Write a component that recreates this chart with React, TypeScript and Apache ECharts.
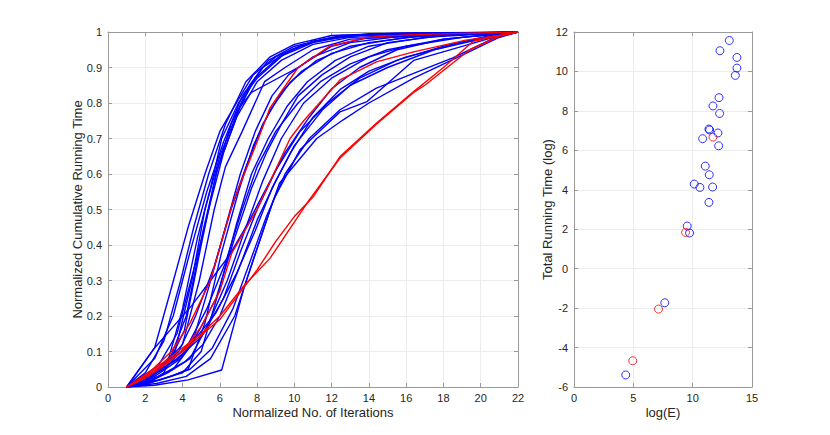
import React, { useEffect, useRef } from "react";
import * as echarts from "echarts";

// Left panel: cumulative curves, [normalized iteration, normalized cumulative time]
const blueCurves: number[][][] = [
  [[1,0],[2.5,0.11],[3.3,0.26],[4.3,0.45],[5.2,0.6],[6,0.72],[7,0.81],[7.8,0.88],[9,0.93],[10.5,0.965],[12,0.985],[15,0.995],[22,1]],
  [[1,0],[2,0.04],[3,0.13],[3.9,0.3],[4.6,0.45],[5.4,0.6],[6.3,0.74],[7.4,0.86],[8.7,0.93],[10,0.965],[12,0.99],[16,0.997],[22,1]],
  [[1,0],[2.2,0.02],[3.2,0.07],[4,0.22],[4.8,0.42],[5.5,0.56],[6.1,0.7],[7,0.8],[8,0.87],[9.5,0.94],[11,0.975],[14,0.993],[22,1]],
  [[1,0],[2.4,0.03],[3.6,0.1],[4.5,0.3],[5.2,0.5],[6,0.65],[7,0.78],[7.9,0.87],[9.2,0.93],[11,0.97],[13,0.99],[22,1]],
  [[1,0],[2.7,0.06],[3.7,0.15],[4.7,0.35],[5.5,0.52],[6.2,0.66],[7.1,0.79],[7.7,0.83],[10.2,0.9],[12,0.96],[14,0.985],[22,1]],
  [[1,0],[2.1,0.01],[3,0.04],[4.1,0.16],[5,0.4],[5.8,0.6],[6.6,0.74],[7.6,0.85],[8.6,0.92],[10,0.96],[12.5,0.99],[22,1]],
  [[1,0],[2.5,0.08],[3.5,0.2],[4.4,0.38],[5.3,0.55],[6.2,0.69],[7.2,0.82],[8.3,0.9],[9.8,0.95],[11.5,0.98],[14,0.995],[22,1]],
  [[1,0],[2.3,0.03],[3.4,0.09],[4.2,0.2],[5.1,0.44],[5.9,0.62],[6.9,0.76],[8,0.86],[9.3,0.92],[11,0.965],[13,0.985],[22,1]],
  [[1,0],[2.8,0.05],[4,0.12],[4.9,0.3],[5.7,0.5],[6.3,0.62],[7.2,0.72],[8.4,0.86],[9.5,0.9],[11,0.95],[13,0.98],[22,1]],
  [[1,0],[2.4,0.02],[3.5,0.05],[4.5,0.12],[5.4,0.28],[6.3,0.45],[7.1,0.6],[7.9,0.72],[8.8,0.82],[9.7,0.88],[11,0.93],[13,0.97],[16,0.99],[22,1]],
  [[1,0],[2.6,0.04],[3.8,0.1],[4.7,0.2],[5.7,0.34],[6.6,0.5],[7.4,0.62],[8.3,0.74],[9.3,0.83],[10.4,0.89],[12,0.94],[14,0.97],[17,0.99],[22,1]],
  [[1,0],[2.2,0.01],[3.4,0.03],[4.3,0.05],[5.2,0.18],[6.1,0.38],[7,0.55],[7.8,0.68],[8.7,0.78],[9.8,0.86],[11.2,0.92],[13,0.96],[16,0.985],[22,1]],
  [[1,0],[2.5,0.03],[3.9,0.08],[4.8,0.15],[5.8,0.25],[6.8,0.42],[7.7,0.56],[8.5,0.66],[9.3,0.74],[10.2,0.82],[11.5,0.88],[13,0.93],[15,0.97],[18,0.99],[22,1]],
  [[1,0],[3,0.05],[4.3,0.12],[5.3,0.22],[6.3,0.35],[7.2,0.5],[8,0.62],[9,0.72],[10.2,0.8],[11.4,0.86],[13,0.91],[15,0.95],[18,0.98],[22,1]],
  [[1,0],[2.7,0.02],[4,0.04],[5,0.1],[6,0.28],[6.9,0.46],[7.7,0.6],[8.6,0.7],[9.6,0.79],[10.7,0.86],[12.2,0.92],[14,0.96],[17,0.985],[22,1]],
  [[1,0],[2.5,0.11],[3.5,0.17],[4.5,0.23],[5.5,0.3],[6.5,0.37],[7.5,0.46],[8.5,0.56],[9.5,0.66],[10.8,0.76],[12,0.84],[13.5,0.9],[15.5,0.95],[18,0.98],[22,1]],
  [[1,0],[2.5,0.005],[4.3,0.02],[6.1,0.048],[7.3,0.28],[8.9,0.53],[10.3,0.668],[12.45,0.775],[13.9,0.804],[16.4,0.92],[21,0.99],[22,1]],
  [[1,0],[2.6,0.01],[4.2,0.03],[5.5,0.08],[6.8,0.2],[7.8,0.36],[8.7,0.5],[9.2,0.574],[11.2,0.7],[12.6,0.752],[14,0.8],[16.4,0.87],[18.7,0.927],[20.9,0.983],[22,1]],
  [[1,0],[2.8,0.02],[4.4,0.05],[5.6,0.11],[6.7,0.22],[7.6,0.35],[8.5,0.48],[9.5,0.6],[10.8,0.7],[12.45,0.781],[14.4,0.842],[18.5,0.927],[20.7,0.983],[22,1]],
  [[1,0],[2.3,0.03],[3.7,0.08],[5,0.14],[6.2,0.25],[7.1,0.38],[8,0.5],[9,0.61],[10.3,0.72],[11.8,0.8],[13.5,0.87],[15.5,0.92],[18,0.96],[20.5,0.99],[22,1]],
  [[1,0],[2.5,0.04],[3.8,0.08],[4.6,0.13],[5.8,0.21],[6.9,0.32],[7.9,0.44],[8.8,0.56],[9.8,0.66],[11,0.76],[12.5,0.84],[14,0.89],[16,0.93],[19,0.97],[22,1]],
  [[1,0],[2,0.01],[3.2,0.04],[4.4,0.08],[5.4,0.18],[6.4,0.3],[7.4,0.45],[8.3,0.58],[9.3,0.7],[10.5,0.8],[12,0.87],[14,0.93],[16,0.96],[19,0.985],[22,1]],
  [[1,0],[2.7,0.03],[4.1,0.07],[5.1,0.12],[6,0.2],[7,0.33],[8,0.47],[9,0.58],[10,0.68],[11.5,0.78],[13,0.85],[15,0.9],[17.5,0.95],[20,0.98],[22,1]],
];

const redCurves: number[][][] = [
  [[1,0],[2,0.03],[3,0.065],[4,0.1],[5,0.146],[6,0.19],[7,0.26],[8,0.33],[9,0.41],[10,0.48],[11,0.535],[12.45,0.649],[14.4,0.743],[16.4,0.832],[18,0.9],[19.6,0.974],[22,1]],
  [[1,0],[2,0.035],[3,0.07],[4,0.11],[5,0.15],[6,0.2],[7.26,0.283],[8.7,0.363],[10.8,0.527],[12.45,0.645],[14.4,0.74],[16.4,0.83],[17,0.85],[19.4,0.95],[21,0.988],[22,1]],
  [[1,0],[2,0.03],[3.4,0.1],[4.4,0.18],[5.5,0.3],[6.7,0.52],[8.07,0.7],[8.69,0.786],[10.2,0.9],[11.9,0.96],[13.9,0.985],[16,0.992],[19,0.996],[22,1]],
  [[1,0],[2,0.025],[3,0.06],[4,0.1],[5,0.17],[6,0.27],[6.64,0.377],[8,0.5],[9.77,0.7],[10.5,0.75],[12.45,0.865],[14.4,0.916],[16.4,0.944],[19.2,0.977],[21,0.99],[22,1]],
];

// Right panel: [log(E), total running time (log)]
const blueScatter: number[][] = [
  [13.09,11.57],[12.3,11.05],[13.73,10.71],[13.73,10.17],[13.6,9.8],[12.22,8.67],[11.71,8.25],[12.27,7.87],
  [11.37,7.08],[11.43,7.03],[12.13,6.88],[10.84,6.59],[12.19,6.23],[11.06,5.2],[11.4,4.76],[10.13,4.29],
  [10.61,4.12],[11.68,4.14],[11.37,3.36],[9.54,2.16],[9.74,1.81],[7.65,-1.73],[4.36,-5.39],
];
const redScatter: number[][] = [
  [11.71,6.67],[9.4,1.84],[7.12,-2.05],[4.95,-4.67],
];

const leftXTicks = { min: 0, max: 22, interval: 2 };
const leftYTicks = { min: 0, max: 1, interval: 0.1 };
const rightXTicks = { min: 0, max: 15, interval: 5 };
const rightYTicks = { min: -6, max: 12, interval: 2 };

const FONT = "Liberation Sans, Arial, sans-serif";
const AXIS_COLOR = "#9a9a9a";
const LABEL_COLOR = "#262626";
const GRID_COLOR = "#ececec";

function mainAxis(gridIndex: number, ticks: any, name: string, kind: "x" | "y", gap: number, fmt?: (v: number) => string) {
  return {
    type: "value",
    gridIndex,
    min: ticks.min,
    max: ticks.max,
    interval: ticks.interval,
    name,
    nameLocation: "middle",
    nameGap: gap,
    nameMoveOverlap: false,
    nameTextStyle: { color: LABEL_COLOR, fontFamily: FONT, fontSize: 13 },
    axisLine: { show: true, onZero: false, lineStyle: { color: AXIS_COLOR, width: 1 } },
    axisTick: { show: true, inside: true, length: 4, lineStyle: { color: AXIS_COLOR } },
    axisLabel: {
      color: LABEL_COLOR,
      fontFamily: FONT,
      fontSize: 11,
      margin: kind === "x" ? 5 : 6,
      formatter: fmt,
    },
    splitLine: { show: true, lineStyle: { color: GRID_COLOR, width: 1 } },
  };
}

function boxAxis(gridIndex: number, ticks: any, position: string) {
  return {
    type: "value",
    gridIndex,
    position,
    min: ticks.min,
    max: ticks.max,
    interval: ticks.interval,
    axisLine: { show: true, onZero: false, lineStyle: { color: AXIS_COLOR, width: 1 } },
    axisTick: { show: true, inside: true, length: 4, lineStyle: { color: AXIS_COLOR } },
    axisLabel: { show: false },
    splitLine: { show: false },
  };
}

export default function App() {
  const ref = useRef<HTMLDivElement>(null);

  useEffect(() => {
    if (!ref.current) return;
    const chart = echarts.init(ref.current, null, { renderer: "svg" });

    const series: any[] = [];
    blueCurves.forEach((c) =>
      series.push({
        type: "line",
        xAxisIndex: 0,
        yAxisIndex: 0,
        data: c,
        showSymbol: false,
        symbol: "none",
        lineStyle: { color: "#0000ff", width: 1.4 },
        z: 2,
      })
    );
    redCurves.forEach((c) =>
      series.push({
        type: "line",
        xAxisIndex: 0,
        yAxisIndex: 0,
        data: c,
        showSymbol: false,
        symbol: "none",
        lineStyle: { color: "#ff0000", width: 1.4 },
        z: 3,
      })
    );
    series.push({
      type: "scatter",
      xAxisIndex: 2,
      yAxisIndex: 2,
      data: blueScatter,
      symbol: "circle",
      symbolSize: 8,
      itemStyle: { color: "transparent", borderColor: "#0000ff", borderWidth: 1 },
    });
    series.push({
      type: "scatter",
      xAxisIndex: 2,
      yAxisIndex: 2,
      data: redScatter,
      symbol: "circle",
      symbolSize: 8,
      itemStyle: { color: "transparent", borderColor: "#ff0000", borderWidth: 1 },
    });

    chart.setOption({
      animation: false,
      backgroundColor: "#ffffff",
      grid: [
        { left: 100, top: 24, width: 410, height: 355 },
        { left: 566, top: 24, width: 178, height: 355 },
      ],
      xAxis: [
        mainAxis(0, leftXTicks, "Normalized No. of Iterations", "x", 19),
        boxAxis(0, leftXTicks, "top"),
        mainAxis(1, rightXTicks, "log(E)", "x", 19),
        boxAxis(1, rightXTicks, "top"),
      ],
      yAxis: [
        mainAxis(0, leftYTicks, "Normalized Cumulative Running Time", "y", 24, (v: number) =>
          String(Math.round(v * 10) / 10)
        ),
        boxAxis(0, leftYTicks, "right"),
        mainAxis(1, rightYTicks, "Total Running Time (log)", "y", 20),
        boxAxis(1, rightYTicks, "right"),
      ],
      series,
    });

    return () => chart.dispose();
  }, []);

  return <div ref={ref} style={{ width: 814, height: 419 }} />;
}
